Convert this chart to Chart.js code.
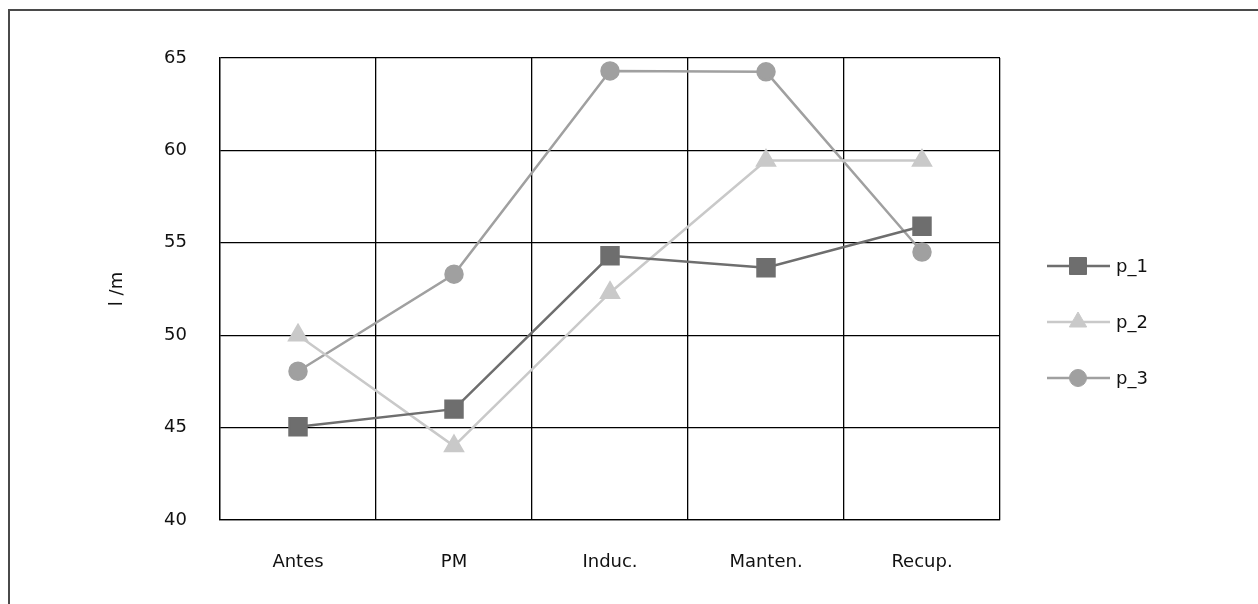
<!DOCTYPE html>
<html>
<head>
<meta charset="utf-8">
<script src="https://cdn.jsdelivr.net/npm/chart.js@4/dist/chart.umd.min.js"></script>
<style>
  body { margin: 0; background: #fff; }
  #wrap { position: relative; width: 1258px; height: 604px; overflow: hidden; }
  #frame { position: absolute; left: 8px; top: 9px; width: 1300px; height: 700px;
           border-top: 2px solid #4a4a4a; border-left: 2px solid #4a4a4a; }
  canvas { position: absolute; left: 0; top: 0; }
</style>
</head>
<body>
<div id="wrap">
  <div id="frame"></div>
  <canvas id="chart" width="1258" height="604"></canvas>
</div>
<script>
// categorias e séries
var etapas = ['Antes', 'PM', 'Induc.', 'Manten.', 'Recup.'];
var p1 = [45.05, 46.0, 54.3, 53.65, 55.9];
var p2 = [50.0, 44.0, 52.3, 59.45, 59.45];
var p3 = [48.05, 53.3, 64.3, 64.25, 54.5];
var yMin = 40, yMax = 65, yStep = 5;
var yTitle = 'l /m';

var fonte = { family: '"DejaVu Sans", Verdana, sans-serif', size: 18 };

// legenda desenhada à mão: linha + marcador, como no original
var legendaLinha = {
  id: 'legendaLinha',
  afterDraw: function(chart){
    var ctx = chart.ctx;
    var ys = [266, 322, 378];
    chart.data.datasets.forEach(function(ds, i){
      var y = ys[i];
      ctx.save();
      ctx.strokeStyle = ds.borderColor;
      ctx.lineWidth = ds.borderWidth;
      ctx.beginPath();
      ctx.moveTo(1047, y);
      ctx.lineTo(1110, y);
      ctx.stroke();
      ctx.fillStyle = ds.pointBackgroundColor;
      ctx.strokeStyle = ds.pointBorderColor;
      ctx.lineWidth = 1;
      Chart.helpers.drawPoint(ctx, { pointStyle: ds.pointStyle, radius: ds.pointRadius, rotation: 0, borderWidth: 1 }, 1078, y);
      ctx.fillStyle = '#111';
      ctx.font = fonte.size + 'px ' + fonte.family;
      ctx.textBaseline = 'middle';
      ctx.textAlign = 'left';
      ctx.fillText(ds.label, 1116, y + 1);
      ctx.restore();
    });
  }
};

function serie(label, data, cor, estilo, raio){
  return {
    label: label,
    data: data,
    borderColor: cor,
    backgroundColor: cor,
    pointBackgroundColor: cor,
    pointBorderColor: cor,
    borderWidth: 2.5,
    pointStyle: estilo,
    pointRadius: raio,
    pointHoverRadius: raio,
    tension: 0,
    fill: false
  };
}

new Chart(document.getElementById('chart'), {
  type: 'line',
  data: {
    labels: etapas,
    datasets: [
      serie('p_1', p1, '#6e6e6e', 'rect', 12),
      serie('p_2', p2, '#c9c9c9', 'triangle', 10),
      serie('p_3', p3, '#a0a0a0', 'circle', 8.5)
    ]
  },
  options: {
    responsive: false,
    animation: false,
    devicePixelRatio: 1,
    layout: { padding: { left: 0, top: 58, right: 258, bottom: 0 } },
    plugins: { legend: { display: false }, tooltip: { enabled: false } },
    scales: {
      x: {
        offset: true,
        grid: { offset: true, color: '#000', lineWidth: 1.3, drawTicks: false },
        border: { color: '#000', width: 1.3 },
        ticks: { color: '#111', font: fonte, padding: 32, maxRotation: 0 },
        afterFit: function(s){ s.height = 84; }
      },
      y: {
        min: yMin, max: yMax,
        grid: { color: '#000', lineWidth: 1.3, drawTicks: false },
        border: { color: '#000', width: 1.3 },
        ticks: { stepSize: yStep, color: '#111', font: fonte, padding: 33 },
        title: { display: true, text: yTitle, color: '#111', font: fonte, padding: { top: 107, bottom: 0 } },
        afterFit: function(s){ s.width = 220; }
      }
    }
  },
  plugins: [legendaLinha]
});
</script>
</body>
</html>
